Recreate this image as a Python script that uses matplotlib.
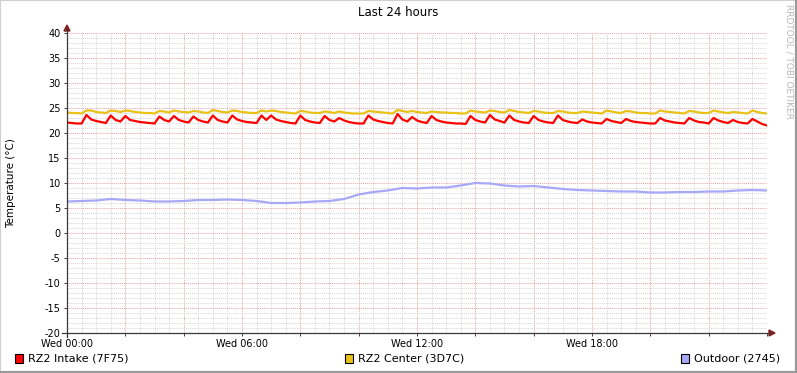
import numpy as np
import matplotlib
matplotlib.use("Agg")
import matplotlib.pyplot as plt
from matplotlib.patches import Rectangle, Polygon
from matplotlib.lines import Line2D

plt.rcParams["axes.unicode_minus"] = False

# --- data (10 min steps for intake/center) -----------------------------------
slots_per_hour = 6
intake = [
    22.1, 22.0, 21.9, 21.9, 23.6, 22.7,
    22.4, 22.2, 22.0, 23.5, 22.6, 22.3,
    23.4, 22.6, 22.4, 22.2, 22.1, 22.0,
    21.9, 23.3, 22.6, 22.3, 23.4, 22.6,
    22.3, 22.1, 23.3, 22.6, 22.3, 22.1,
    23.5, 22.6, 22.3, 22.1, 23.5, 22.7,
    22.4, 22.2, 22.1, 22.0, 23.5, 22.6,
    23.5, 22.7, 22.4, 22.2, 22.0, 21.9,
    23.5, 22.6, 22.3, 22.1, 22.0, 23.4,
    22.6, 22.3, 23.0, 22.5, 22.2, 22.0,
    21.9, 21.9, 23.5, 22.7, 22.4, 22.2,
    22.0, 21.9, 23.8, 22.7, 22.3, 23.2,
    22.5, 22.2, 22.0, 23.4, 22.6, 22.3,
    22.1, 22.0, 21.9, 21.9, 21.8, 23.4,
    22.6, 22.3, 22.1, 23.6, 22.7, 22.4,
    22.1, 23.5, 22.6, 22.3, 22.1, 22.0,
    23.4, 22.6, 22.3, 22.1, 22.0, 23.5,
    22.6, 22.3, 22.1, 22.0, 22.7, 22.3,
    22.1, 22.0, 21.9, 22.8, 22.4, 22.2,
    22.0, 22.8, 22.4, 22.2, 22.1, 22.0,
    21.9, 21.9, 23.0, 22.5, 22.3, 22.1,
    22.0, 21.9, 23.0, 22.5, 22.2, 22.1,
    21.9, 23.0, 22.5, 22.2, 22.0, 22.6,
    22.2, 22.0, 21.9, 22.8, 22.3, 21.8,
    21.5,
]
center = [
    24.1, 24.0, 24.0, 23.9, 24.5, 24.5,
    24.2, 24.1, 24.0, 24.5, 24.4, 24.2,
    24.5, 24.4, 24.2, 24.1, 24.0, 24.0,
    23.9, 24.4, 24.3, 24.1, 24.5, 24.3,
    24.2, 24.1, 24.4, 24.3, 24.1, 24.0,
    24.6, 24.4, 24.2, 24.1, 24.5, 24.4,
    24.2, 24.1, 24.0, 24.0, 24.5, 24.3,
    24.5, 24.4, 24.2, 24.1, 24.0, 23.9,
    24.4, 24.3, 24.1, 24.0, 24.0, 24.3,
    24.2, 24.0, 24.3, 24.1, 24.0, 23.9,
    23.9, 23.9, 24.4, 24.3, 24.2, 24.1,
    24.0, 23.9, 24.6, 24.4, 24.2, 24.4,
    24.2, 24.1, 24.0, 24.3, 24.2, 24.1,
    24.1, 24.0, 24.0, 23.9, 23.9, 24.5,
    24.3, 24.2, 24.1, 24.5, 24.4, 24.2,
    24.1, 24.6, 24.4, 24.2, 24.1, 24.0,
    24.4, 24.3, 24.1, 24.0, 24.0, 24.4,
    24.3, 24.1, 24.0, 24.0, 24.3, 24.2,
    24.1, 24.0, 23.9, 24.5, 24.3, 24.1,
    24.0, 24.4, 24.3, 24.1, 24.0, 24.0,
    23.9, 23.9, 24.5, 24.3, 24.2, 24.1,
    24.0, 23.9, 24.4, 24.3, 24.1, 24.0,
    24.0, 24.5, 24.3, 24.1, 24.0, 24.2,
    24.1, 24.0, 23.9, 24.5, 24.2, 24.0,
    23.9,
]
# outdoor, every 30 min
outdoor = [
    6.3, 6.4, 6.5, 6.8, 6.6, 6.5, 6.3, 6.3, 6.4, 6.6,
    6.6, 6.7, 6.6, 6.4, 6.0, 6.0, 6.1, 6.3, 6.4, 6.8,
    7.7, 8.2, 8.5, 9.0, 8.9, 9.1, 9.1, 9.5, 10.0, 9.9,
    9.5, 9.3, 9.4, 9.1, 8.8, 8.6, 8.5, 8.4, 8.3, 8.3,
    8.1, 8.1, 8.2, 8.2, 8.3, 8.3, 8.5, 8.6, 8.5,
]
series_names = ["RZ2 Intake (7F75)", "RZ2 Center (3D7C)", "Outdoor (2745)"]
series_colors = ["#FF0000", "#EAC117", "#A8A8F8"]
xtick_hours = [0, 6, 12, 18]
xtick_labels = ["Wed 00:00", "Wed 06:00", "Wed 12:00", "Wed 18:00"]

t_fine = np.arange(len(intake)) / slots_per_hour
t_half = np.arange(len(outdoor)) / 2

# --- figure -----------------------------------------------------------------
W, H = 797, 373
fig = plt.figure(figsize=(W / 100, H / 100), dpi=100)
fig.patch.set_facecolor("white")

def px(x, y):
    return (x / W, 1 - y / H)

# 3d-ish border like rrdtool
fig.add_artist(Line2D([0, 0], [0, 1], color="#D0D0D0", lw=1.5, transform=fig.transFigure))
fig.add_artist(Line2D([0, 1], [1, 1], color="#D0D0D0", lw=1.5, transform=fig.transFigure))
fig.add_artist(Line2D([1, 1], [0, 1], color="#9A9A9A", lw=3, transform=fig.transFigure))
fig.add_artist(Line2D([0, 1], [0, 0], color="#9A9A9A", lw=3, transform=fig.transFigure))

ax = fig.add_axes([67 / W, 40 / H, 700 / W, 300 / H])
ax.set_xlim(0, 24)
ax.set_ylim(-20, 40)
for s in ax.spines.values():
    s.set_visible(False)

ax.set_xticks(np.arange(0, 24.01, 2))
ax.set_xticks(np.arange(0, 24.01, 0.5), minor=True)
ax.set_yticks(np.arange(-20, 40.1, 5))
ax.set_yticks(np.arange(-20, 40.1, 1), minor=True)
ax.set_xticklabels([xtick_labels[xtick_hours.index(h)] if h in xtick_hours else ""
                    for h in range(0, 25, 2)])
ax.grid(which="minor", color="#D6D6D6", lw=0.7, ls=(0, (1, 1)))
ax.grid(which="major", color="#E8A3A3", lw=0.7, ls=(0, (1, 1)))
ax.tick_params(which="major", length=2, width=0.7, color="#404040",
               labelsize=7, pad=2.5)
ax.tick_params(which="minor", length=0)
ax.set_axisbelow(True)

ax.plot(t_fine, intake, color=series_colors[0], lw=1.6)
ax.plot(t_fine, center, color=series_colors[1], lw=1.6)
ax.plot(t_half, outdoor, color=series_colors[2], lw=1.6)

# axes with arrows
axis_col = "#3A3A3A"
arrow_col = "#7F1F1F"
fig.add_artist(Line2D([px(67, 337)[0], px(67, 30)[0]], [px(67, 337)[1], px(67, 30)[1]],
                      color=axis_col, lw=0.9, transform=fig.transFigure))
fig.add_artist(Line2D([px(62, 333)[0], px(770, 333)[0]], [px(62, 333)[1], px(770, 333)[1]],
                      color=axis_col, lw=0.9, transform=fig.transFigure))
fig.add_artist(Polygon([px(64, 31), px(70, 31), px(67, 25)], closed=True,
                       color=arrow_col, transform=fig.transFigure))
fig.add_artist(Polygon([px(769, 330), px(769, 336), px(775, 333)], closed=True,
                       color=arrow_col, transform=fig.transFigure))

# texts
fig.text(*px(398, 13), "Last 24 hours", ha="center", va="center", fontsize=8.5)
fig.text(*px(11, 183), "Temperature (°C)", ha="center", va="center",
         rotation=90, fontsize=7.5)
fig.text(*px(789, 4), "RRDTOOL / TOBI OETIKER", ha="center", va="top",
         rotation=270, fontsize=6.5, color="#B8B8B8")

# legend row
legend_x = [15, 345, 681]
for lx, name, col in zip(legend_x, series_names, series_colors):
    fig.add_artist(Rectangle(px(lx, 363), 8 / W, 9 / H, facecolor=col,
                             edgecolor="black", lw=0.8, transform=fig.transFigure))
    fig.text(*px(lx + 13, 358.5), name, ha="left", va="center", fontsize=8)

fig.savefig("out.png", dpi=100)
